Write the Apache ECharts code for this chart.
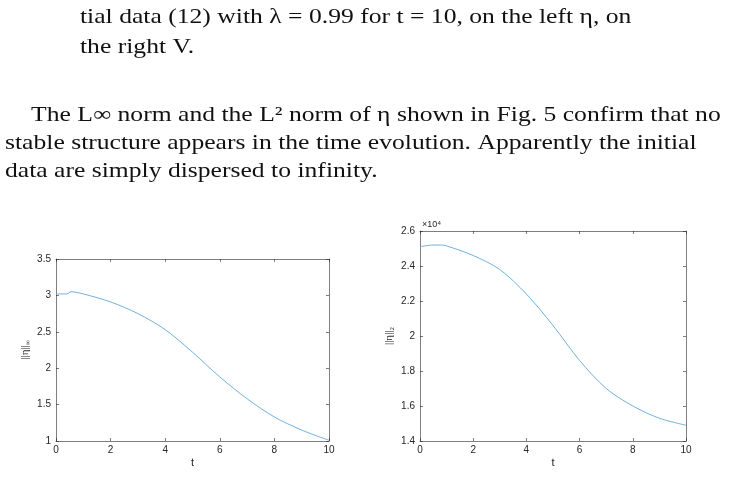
<!DOCTYPE html>
<html><head><meta charset="utf-8">
<script src="https://cdn.jsdelivr.net/npm/echarts@6/dist/echarts.min.js"></script>
<style>html,body{margin:0;padding:0;background:#fff}#c{width:729px;height:478px}</style>
</head><body><div id="c"></div>
<script>
const tLeft = [0,0.4,0.55,1,2,3,4,5,6,7,8,9,10];
const normInf = [3.02,3.02,3.05,3.02,2.91,2.75,2.53,2.22,1.88,1.58,1.33,1.15,1.01];
const tRight = [0,0.5,0.8,1,2,3,4,5,6,7,8,9,10];
const normL2 = [25100,25200,25200,25150,24600,23800,22400,20600,18600,17000,16000,15300,14900];

const chart = echarts.init(document.getElementById('c'));
const serif = '"Liberation Serif","DejaVu Serif",serif';
const sans = 'Helvetica,"Liberation Sans",Arial,sans-serif';
const axCol = '#262626';
function xax(grid, top){
  return {type:'value', gridIndex:grid, min:0, max:10, interval:2, position: top?'top':'bottom',
    axisLine:{show:true,onZero:false,lineStyle:{color:axCol,width:0.6}},
    axisTick:{show:true,inside:true,length:3,lineStyle:{color:axCol,width:0.6}},
    axisLabel:{show:!top,color:axCol,fontSize:10,fontFamily:sans,margin:4},
    splitLine:{show:false},
    name: top?'':'t', nameLocation:'middle', nameGap:16,
    nameTextStyle:{color:axCol,fontSize:11,fontFamily:sans}};
}
function yax(grid, right, min, max, interval, fmt, name){
  return {type:'value', gridIndex:grid, min, max, interval, position: right?'right':'left',
    axisLine:{show:true,onZero:false,lineStyle:{color:axCol,width:0.6}},
    axisTick:{show:true,inside:true,length:3,lineStyle:{color:axCol,width:0.6}},
    axisLabel:{show:!right,color:axCol,fontSize:10,fontFamily:sans,margin:5,formatter:fmt},
    splitLine:{show:false},
    name: right?'':name, nameLocation:'middle', nameGap:24, nameRotate:90,
    nameTextStyle:{color:axCol,fontSize:11,fontFamily:serif,
      rich:{s:{fontSize:7,fontFamily:serif,color:axCol,padding:[6,0,0,0]}}}};
}
const paraLines = [
  {x:80,y:20,t:'tial data (12) with λ = 0.99 for t = 10, on the left η, on',w:575},
  {x:80,y:50,t:'the right V.',w:100},
  {x:31,y:118,t:'The L∞ norm and the L² norm of η shown in Fig. 5 confirm that no',w:691},
  {x:5,y:146,t:'stable structure appears in the time evolution. Apparently the initial',w:722},
  {x:5,y:174,t:'data are simply dispersed to infinity.',w:380}
];
chart.setOption({
  animation:false,
  grid:[{left:56,top:259,width:273,height:182},{left:420,top:231,width:266,height:210}],
  xAxis:[xax(0,false),xax(0,true),xax(1,false),xax(1,true)],
  yAxis:[yax(0,false,1,3.5,0.5,v=>String(v),'||η||{s|∞}'),yax(0,true,1,3.5,0.5,null,''),
         yax(1,false,14000,26000,2000,v=>String(+(v/10000).toFixed(1)),'||η||{s|2}'),yax(1,true,14000,26000,2000,null,'')],
  graphic: paraLines.map(p=>({type:'text',x:p.x,y:p.y-13,scaleX:1.22,style:{text:p.t,font:'21px '+serif,fill:'#111'}}))
    .concat([{type:'text',left:422,top:220,style:{text:'×10⁴',font:'9px '+sans,fill:axCol}}]),
  series:[
    {type:'line',xAxisIndex:0,yAxisIndex:0,data:tLeft.map((t,i)=>[t,normInf[i]]),smooth:0.3,showSymbol:false,lineStyle:{color:'#6fb0dd',width:1}},
    {type:'line',xAxisIndex:2,yAxisIndex:2,data:tRight.map((t,i)=>[t,normL2[i]]),smooth:0.3,showSymbol:false,lineStyle:{color:'#6fb0dd',width:1}}
  ]
});
</script></body></html>
